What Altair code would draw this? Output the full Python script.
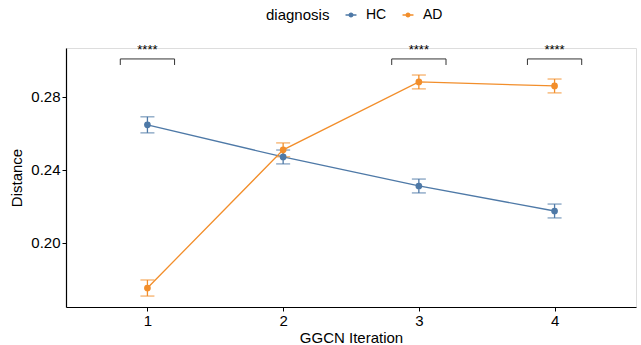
import altair as alt
import pandas as pd

iterations = [1, 2, 3, 4]
hc_mean = [0.2647, 0.2471, 0.2312, 0.2175]
hc_err = [0.0044, 0.0038, 0.0038, 0.0038]
ad_mean = [0.1753, 0.2510, 0.2882, 0.2860]
ad_err = [0.0044, 0.0038, 0.0038, 0.0038]

bracket_iter = [1, 3, 4]
bracket_label = ["****", "****", "****"]
bracket_y = 0.3008
bracket_leg = 0.2975
bracket_text_y = 0.3020
half_width = 0.2

rows = []
for i, m, e in zip(iterations, hc_mean, hc_err):
    rows.append({"iter": i, "diagnosis": "HC", "mean": m, "lo": m - e, "hi": m + e})
for i, m, e in zip(iterations, ad_mean, ad_err):
    rows.append({"iter": i, "diagnosis": "AD", "mean": m, "lo": m - e, "hi": m + e})
df = pd.DataFrame(rows)

br = pd.DataFrame({
    "iter": bracket_iter,
    "label": bracket_label,
})
br["x1"] = br["iter"] - half_width
br["x2"] = br["iter"] + half_width
br["y"] = bracket_y
br["yleg"] = bracket_leg
br["yt"] = bracket_text_y

xscale = alt.Scale(domain=[0.4, 4.6], nice=False, zero=False)
yscale = alt.Scale(domain=[0.1649, 0.3068], nice=False, zero=False)
color = alt.Color(
    "diagnosis:N",
    scale=alt.Scale(domain=["HC", "AD"], range=["#4E79A7", "#F28E2B"]),
    legend=alt.Legend(
        orient="none", legendX=200, legendY=-40, direction="horizontal",
        titleOrient="left", title="diagnosis",
        symbolType="M-1,0L1,0M-0.32,0A0.32,0.32 0 1,0 0.32,0A0.32,0.32 0 1,0 -0.32,0",
        symbolSize=120, symbolStrokeWidth=1.5, columnPadding=12,
        labelFontSize=14, titleFontSize=15, titleFontWeight="normal",
        labelColor="black", titleColor="black", titlePadding=14, labelOffset=8,
    ),
)

x = alt.X("iter:Q", scale=xscale, title="GGCN Iteration",
          axis=alt.Axis(values=iterations, format="d", grid=False))
y = alt.Y("mean:Q", scale=yscale, title="Distance",
          axis=alt.Axis(values=[0.20, 0.24, 0.28], format=".2f", grid=False))

base = alt.Chart(df)
lines = base.mark_line(strokeWidth=1.3).encode(x=x, y=y, color=color)
points = base.mark_point(filled=True, size=45, opacity=1).encode(x=x, y=y, color=color)
ebar = base.mark_rule(strokeWidth=1.3).encode(x="iter:Q", y="lo:Q", y2="hi:Q",
                                              color=alt.Color("diagnosis:N", legend=None))
cap_lo = base.mark_tick(orient="horizontal", size=14, thickness=1.3).encode(
    x="iter:Q", y="lo:Q", color=alt.Color("diagnosis:N", legend=None))
cap_hi = base.mark_tick(orient="horizontal", size=14, thickness=1.3).encode(
    x="iter:Q", y="hi:Q", color=alt.Color("diagnosis:N", legend=None))

bb = alt.Chart(br)
bh = bb.mark_rule(color="#333333", strokeWidth=1).encode(x="x1:Q", x2="x2:Q", y="y:Q")
bl = bb.mark_rule(color="#333333", strokeWidth=1).encode(x="x1:Q", y="yleg:Q", y2="y:Q")
brr = bb.mark_rule(color="#333333", strokeWidth=1).encode(x="x2:Q", y="yleg:Q", y2="y:Q")
bt = bb.mark_text(fontSize=13, baseline="bottom", color="black", font="Liberation Sans").encode(
    x="iter:Q", y="yt:Q", text="label:N")

chart = alt.layer(lines, ebar, cap_lo, cap_hi, points, bh, bl, brr, bt).properties(
    width=570, height=259,
    autosize=alt.AutoSizeParams(type="none"),
    padding={"left": 66, "top": 48, "right": 5, "bottom": 38},
).configure_view(stroke=None).configure(font="Liberation Sans").configure_axis(
    domainColor="black", domainWidth=1.2, tickColor="black", tickSize=4,
    labelColor="black", labelFontSize=15, titleFontSize=15, titleColor="black",
    titleFontWeight="normal", labelPadding=2,
).configure_axisY(titlePadding=6).configure_axisX(titlePadding=2)

chart.save("out.html", embed_options={"renderer": "svg", "actions": False})
